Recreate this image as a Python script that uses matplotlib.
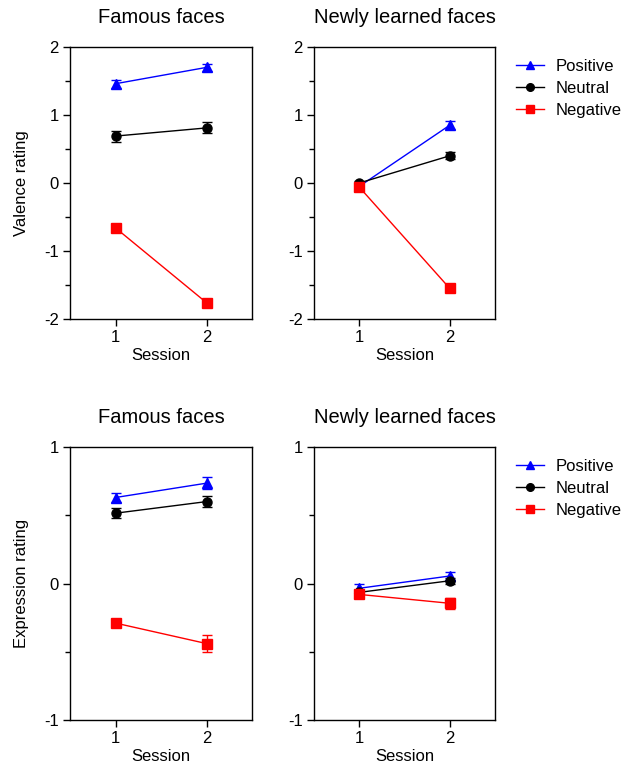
import numpy as np
import matplotlib
matplotlib.use("Agg")
from matplotlib import pyplot as plt
from matplotlib.lines import Line2D
from matplotlib.ticker import MultipleLocator

plt.rcParams['font.family'] = ['Liberation Sans', 'DejaVu Sans']
plt.rcParams['axes.unicode_minus'] = False

sessions = [1, 2]
conditions = ["Positive", "Neutral", "Negative"]
colors = ["#0000ff", "#000000", "#ff0000"]
markers = ["^", "o", "s"]

# valence ratings (mean, sem) per condition
val_famous = [[1.46, 1.70], [0.69, 0.81], [-0.66, -1.76]]
val_famous_err = [[0.06, 0.05], [0.08, 0.08], [0.03, 0.03]]
val_new = [[-0.05, 0.85], [0.00, 0.40], [-0.06, -1.55]]
val_new_err = [[0.03, 0.06], [0.03, 0.05], [0.03, 0.03]]

# expression ratings
exp_famous = [[0.63, 0.735], [0.515, 0.60], [-0.29, -0.44]]
exp_famous_err = [[0.035, 0.045], [0.035, 0.04], [0.025, 0.065]]
exp_new = [[-0.035, 0.055], [-0.065, 0.02], [-0.08, -0.145]]
exp_new_err = [[0.03, 0.03], [0.02, 0.02], [0.02, 0.04]]

W, H = 622, 767
fig = plt.figure(figsize=(W / 100, H / 100), dpi=100)


def px_axes(x0, y0, x1, y1):
    return fig.add_axes([x0 / W, 1 - y1 / H, (x1 - x0) / W, (y1 - y0) / H])


def panel(ax, means, errs, title, ylim, ylabel=None):
    for i in range(len(conditions)):
        ax.errorbar(sessions, means[i], yerr=errs[i], color=colors[i],
                    marker=markers[i], markersize=6.5, linewidth=1,
                    elinewidth=1, capsize=3.5, capthick=1)
    ax.set_xlim(0.5, 2.5)
    ax.set_ylim(*ylim)
    ax.set_xticks(sessions)
    ax.yaxis.set_major_locator(MultipleLocator(1))
    ax.yaxis.set_minor_locator(MultipleLocator(0.5))
    ax.tick_params(axis='both', which='major', labelsize=12, length=5,
                   width=1, direction='out', pad=3)
    ax.tick_params(axis='y', which='minor', length=3.5, width=1)
    ax.tick_params(axis='x', which='minor', length=0)
    for s in ax.spines.values():
        s.set_linewidth(1)
    ax.set_xlabel("Session", fontsize=12, labelpad=2)
    ax.set_title(title, fontsize=14.5, pad=17)
    if ylabel:
        ax.set_ylabel(ylabel, fontsize=12)
        ax.yaxis.set_label_coords(-0.225, 0.5)


def add_legend(top_px):
    handles = [Line2D([], [], color=colors[i], marker=markers[i],
                      markersize=5.5, linewidth=1) for i in range(len(conditions))]
    fig.legend(handles, conditions, loc='upper left',
               bbox_to_anchor=(516 / W, 1 - top_px / H), frameon=False,
               fontsize=12, handlelength=1.65, handletextpad=0.7,
               labelspacing=0.42, borderpad=0, borderaxespad=0)


ax1 = px_axes(70, 47, 252, 319)
panel(ax1, val_famous, val_famous_err, "Famous faces", (-2, 2), "Valence rating")
ax2 = px_axes(314, 47, 495, 319)
panel(ax2, val_new, val_new_err, "Newly learned faces", (-2, 2))
add_legend(59)

ax3 = px_axes(70, 447, 252, 720)
panel(ax3, exp_famous, exp_famous_err, "Famous faces", (-1, 1), "Expression rating")
ax4 = px_axes(314, 447, 495, 720)
panel(ax4, exp_new, exp_new_err, "Newly learned faces", (-1, 1))
add_legend(459)

fig.savefig("out.png", dpi=100)
